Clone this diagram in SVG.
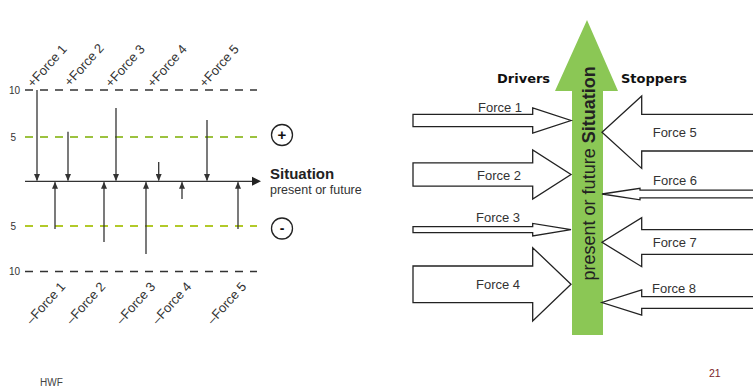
<svg xmlns="http://www.w3.org/2000/svg" width="753" height="391" viewBox="0 0 753 391">
<style>
text{font-family:"Liberation Sans",Arial,sans-serif;fill:#333}
.sc{font-size:10px}
.fl{font-size:13px}
.fr{font-size:13px}
.hd{font-family:"DejaVu Sans",sans-serif;font-weight:bold;font-size:13px;fill:#111}
.dk{stroke:#333;stroke-width:1.5;stroke-dasharray:8 7;fill:none}
.gd{stroke:#9cc23f;stroke-width:1.8;stroke-dasharray:8 7;fill:none}
.gd2{stroke:#b2c92a;stroke-width:1.8;stroke-dasharray:8 7;fill:none}
.ar{stroke:#333;stroke-width:1.3;fill:none}
.bar{fill:#fff;stroke:#222;stroke-width:1.3;stroke-linejoin:miter}
.cir{fill:#fff;stroke:#222;stroke-width:1.3}
</style>
<defs>
<marker id="ah" viewBox="0 0 7 6" refX="6.5" refY="3" markerWidth="7" markerHeight="6" markerUnits="userSpaceOnUse" orient="auto">
<path d="M0,0 L7,3 L0,6 z" fill="#333"/>
</marker>
</defs>
<rect width="753" height="391" fill="#fff"/>

<g id="scale">
<line class="dk" x1="25" y1="90" x2="257" y2="90"/>
<line class="gd" x1="25" y1="137" x2="257" y2="137"/>
<line class="gd2" x1="25" y1="226" x2="257" y2="226"/>
<line class="dk" x1="25" y1="271.5" x2="257" y2="271.5"/>
<text class="sc" x="20" y="94" text-anchor="end">10</text>
<text class="sc" x="16" y="141" text-anchor="end">5</text>
<text class="sc" x="16" y="229.5" text-anchor="end">5</text>
<text class="sc" x="20" y="275" text-anchor="end">10</text>
</g>

<g id="axis">
<line class="ar" x1="25" y1="181.3" x2="253" y2="181.3"/>
<path d="M252,176.8 L261,181.3 L252,185.8 z" fill="#222"/>
</g>

<g id="connectors">
<line class="ar" x1="37" y1="90" x2="37" y2="180.5" marker-end="url(#ah)"/>
<line class="ar" x1="68" y1="131.7" x2="68" y2="180.5" marker-end="url(#ah)"/>
<line class="ar" x1="116" y1="108" x2="116" y2="180.5" marker-end="url(#ah)"/>
<line class="ar" x1="158.7" y1="162" x2="158.7" y2="180.5" marker-end="url(#ah)"/>
<line class="ar" x1="207" y1="120" x2="207" y2="180.5" marker-end="url(#ah)"/>
<line class="ar" x1="55" y1="229" x2="55" y2="182.3" marker-end="url(#ah)"/>
<line class="ar" x1="104" y1="242" x2="104" y2="182.3" marker-end="url(#ah)"/>
<line class="ar" x1="146" y1="254" x2="146" y2="182.3" marker-end="url(#ah)"/>
<line class="ar" x1="182" y1="199" x2="182" y2="182.3" marker-end="url(#ah)"/>
<line class="ar" x1="238" y1="229" x2="238" y2="182.3" marker-end="url(#ah)"/>
</g>

<g id="plus-labels">
<text class="fl" transform="translate(33,88) rotate(-48)">+Force 1</text>
<text class="fl" transform="translate(70,87) rotate(-48)">+Force 2</text>
<text class="fl" transform="translate(111,88) rotate(-48)">+Force 3</text>
<text class="fl" transform="translate(153,88) rotate(-48)">+Force 4</text>
<text class="fl" transform="translate(205,88) rotate(-48)">+Force 5</text>
</g>

<g id="minus-labels">
<text class="fl" text-anchor="end" transform="translate(66,287) rotate(-48)">–Force 1</text>
<text class="fl" text-anchor="end" transform="translate(106,287) rotate(-48)">–Force 2</text>
<text class="fl" text-anchor="end" transform="translate(156,287) rotate(-48)">–Force 3</text>
<text class="fl" text-anchor="end" transform="translate(192,287) rotate(-48)">–Force 4</text>
<text class="fl" text-anchor="end" transform="translate(247,287) rotate(-48)">–Force 5</text>
</g>

<g id="plus-circle">
<circle class="cir" cx="282" cy="135" r="10.5"/>
<text x="282" y="140" text-anchor="middle" font-size="15" font-weight="bold" style="fill:#111">+</text>
</g>
<g id="minus-circle">
<circle class="cir" cx="282" cy="228.5" r="10.5"/>
<text x="282" y="233" text-anchor="middle" font-size="14" font-weight="bold" style="fill:#111">-</text>
</g>
<g id="situation-label">
<text x="270" y="178.5" font-size="15" font-weight="bold" style="fill:#222">Situation</text>
<text x="270" y="193.5" font-size="12.5">present or future</text>
</g>

<g id="situation-arrow">
<polygon points="587,20 618,91 603,91 603,335 572,335 572,91 555,91" fill="#8bc755"/>
<text transform="translate(595,173.4) rotate(-90)" text-anchor="middle" font-size="18" style="fill:#222">present or future <tspan font-weight="bold">Situation</tspan></text>
</g>

<text class="hd" x="497" y="83">Drivers</text>
<text class="hd" x="621" y="83">Stoppers</text>

<g id="force1">
<polygon class="bar" points="413,114.3 532.7,114.3 532.7,108 571,120.5 532.7,133 532.7,126.7 413,126.7"/>
<text class="fr" x="478" y="112">Force 1</text>
</g>
<g id="force2">
<polygon class="bar" points="413,162.8 532.7,162.8 532.7,150 571,174.5 532.7,199 532.7,186.2 413,186.2"/>
<text class="fr" x="477" y="179.5">Force 2</text>
</g>
<g id="force3">
<polygon class="bar" points="413,226.7 532.7,226.7 532.7,223.4 571,229.7 532.7,236 532.7,232.7 413,232.7"/>
<text class="fr" x="476" y="221.7">Force 3</text>
</g>
<g id="force4">
<polygon class="bar" points="413,266 532.7,266 532.7,247.7 571,284.3 532.7,321 532.7,302.7 413,302.7"/>
<text class="fr" x="476" y="288.5">Force 4</text>
</g>

<g id="force5">
<polygon class="bar" points="760,114.3 641.7,114.3 641.7,96 602,132.2 641.7,168.4 641.7,151 760,151"/>
<text class="fr" x="652.7" y="137.3">Force 5</text>
</g>
<g id="force6">
<polygon class="bar" points="760,190.2 640,190.2 640,188.3 602,194 640,199.8 640,197.8 760,197.8"/>
<text class="fr" x="653" y="185">Force 6</text>
</g>
<g id="force7">
<polygon class="bar" points="760,229.6 641.7,229.6 641.7,217.7 602,242.2 641.7,266.7 641.7,254.3 760,254.3"/>
<text class="fr" x="652.7" y="246.7">Force 7</text>
</g>
<g id="force8">
<polygon class="bar" points="760,296.7 641.7,296.7 641.7,290 602,302.5 641.7,315 641.7,308.3 760,308.3"/>
<text class="fr" x="652" y="293.3">Force 8</text>
</g>

<text x="40" y="386" font-size="10" style="fill:#444">HWF</text>
<text x="709" y="377" font-size="10.5" style="fill:#7b1e2a">21</text>
</svg>
